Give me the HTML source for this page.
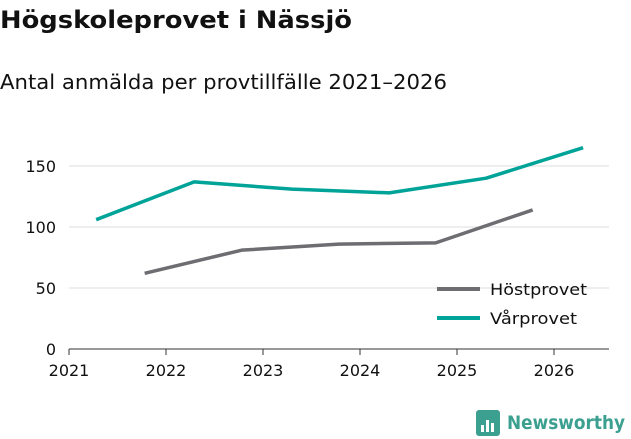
<!DOCTYPE html>
<html><head><meta charset="utf-8"><style>
body{margin:0;width:631px;height:439px;background:#fff;font-family:"DejaVu Sans","Liberation Sans",sans-serif;overflow:hidden}
svg{position:absolute;left:0;top:0}
</style></head><body>
<svg width="631" height="439">
<text x="0" y="28" font-size="24" font-weight="bold" fill="#111" textLength="352" lengthAdjust="spacingAndGlyphs">Högskoleprovet i Nässjö</text>
<text x="0" y="89" font-size="20" fill="#111" textLength="447" lengthAdjust="spacingAndGlyphs">Antal anmälda per provtillfälle 2021–2026</text>
<g id="grid"></g><g id="axes"></g><g id="series"></g>
<g>
<line x1="437" y1="289" x2="480" y2="289" stroke="#6d6d72" stroke-width="4"/>
<text x="490" y="295" font-size="16" fill="#111" textLength="97" lengthAdjust="spacingAndGlyphs">Höstprovet</text>
<line x1="437" y1="318" x2="480" y2="318" stroke="#00a398" stroke-width="4"/>
<text x="490" y="324" font-size="16" fill="#111" textLength="87" lengthAdjust="spacingAndGlyphs">Vårprovet</text>
</g>
<g>
<rect x="476" y="410" width="24" height="26" rx="3" fill="#3ba08f"/>
<rect x="481" y="425" width="3" height="7" fill="#fff"/><rect x="486" y="420" width="3" height="12" fill="#fff"/><rect x="491" y="423" width="3" height="9" fill="#fff"/>
<text x="507" y="429" font-size="19" font-weight="bold" fill="#3ba08f" textLength="118" lengthAdjust="spacingAndGlyphs">Newsworthy</text>
</g>
</svg>
<script>
const years=[2021,2022,2023,2024,2025,2026];
const yTicks=[0,50,100,150];
const hostX=[2021.78,2022.78,2023.78,2024.78,2025.78];
const hostY=[62,81,86,87,114];
const varX=[2021.28,2022.29,2023.3,2024.3,2025.3,2026.3];
const varY=[106,137,131,128,140,165];
const NS="http://www.w3.org/2000/svg";
const xs=v=>69+(v-2021)*97;
const ys=v=>349-v*1.22;
function mk(tag,attrs,parent){const e=document.createElementNS(NS,tag);for(const k in attrs)e.setAttribute(k,attrs[k]);document.getElementById(parent).appendChild(e);return e;}
yTicks.forEach(t=>{
 if(t>0){const g=mk('line',{x1:69,x2:609,y1:ys(t),y2:ys(t),stroke:'#dcdcdc','stroke-width':1},'grid');
 
 }
 const l=mk('text',{x:56,y:ys(t)+6,'font-size':16,'text-anchor':'end',fill:'#111'},'axes');l.textContent=t;
 
 
});
const ax=mk('line',{x1:69,x2:609,y1:349,y2:349,stroke:'#333','stroke-width':1},'axes');


years.forEach(y=>{
 const tk=mk('line',{x1:xs(y),x2:xs(y),y1:349,y2:355,stroke:'#333'},'axes');
 
 
 const l=mk('text',{x:xs(y),y:376,'font-size':16,'text-anchor':'middle',fill:'#111'},'axes');l.textContent=y;
 
 
});
function line(X,Y,c,name){
 const p=mk('polyline',{points:X.map((x,i)=>xs(x)+','+ys(Y[i])).join(' '),fill:'none',stroke:c,'stroke-width':3.5,'stroke-linejoin':'round'},'series');
 
 
}
line(hostX,hostY,'#6d6d72','line-hostprovet');
line(varX,varY,'#00a398','line-varprovet');
</script>
</body></html>
